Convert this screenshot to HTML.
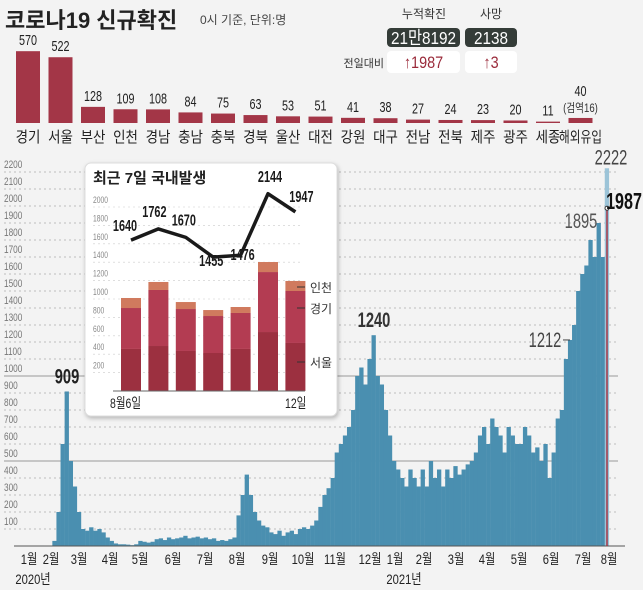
<!DOCTYPE html>
<html><head><meta charset="utf-8"><style>
body{margin:0;background:#f3f3f3;}
svg{display:block;font-family:"Liberation Sans","Noto Sans CJK KR",sans-serif;}
.k{font-family:"Liberation Sans","Noto Sans CJK KR",sans-serif;}
</style></head><body>
<svg id="s" width="643" height="590" viewBox="0 0 643 590">
<rect width="643" height="590" fill="#f3f3f3"/>
<text class="k" x="5" y="28" font-size="22" font-weight="bold" fill="#222">코로나19 신규확진</text>
<text class="k" x="200" y="24" font-size="12" fill="#444">0시 기준, 단위:명</text>
<g>
<text class="k" x="424" y="18" font-size="12" text-anchor="middle" fill="#333">누적확진</text>
<text class="k" x="491" y="18" font-size="12" text-anchor="middle" fill="#333">사망</text>
<rect x="387" y="28" width="73" height="19" rx="4" fill="#343c38"/>
<text transform="translate(423.5,44) scale(0.85,1)" font-size="18" text-anchor="middle" fill="#fff" class="k">21만8192</text>
<rect x="465" y="28" width="52" height="19" rx="4" fill="#343c38"/>
<text transform="translate(491,44) scale(0.85,1)" font-size="18" text-anchor="middle" fill="#fff">2138</text>
<text class="k" x="384" y="67" font-size="11" text-anchor="end" fill="#333">전일대비</text>
<rect x="387" y="51" width="73" height="22" rx="4" fill="#fff"/>
<text transform="translate(423.5,68) scale(0.85,1)" font-size="17" text-anchor="middle" fill="#9a2a3a">↑1987</text>
<rect x="465" y="51" width="52" height="22" rx="4" fill="#fff"/>
<text transform="translate(491,68) scale(0.85,1)" font-size="17" text-anchor="middle" fill="#9a2a3a">↑3</text>
</g>
<g id="region"></g>
<g id="main"></g>
<g id="inset"></g>
</svg>
<script>
const regions=["경기","서울","부산","인천","경남","충남","충북","경북","울산","대전","강원","대구","전남","전북","제주","광주","세종","해외유입"];
const regionValues=[570,522,128,109,108,84,75,63,53,51,41,38,27,24,23,20,11,40];
const dailyCases=[1,1,2,2,3,2,1,30,200,600,909,500,350,200,100,90,110,90,100,80,50,30,15,10,10,8,5,10,30,25,20,25,40,45,35,50,40,45,50,60,45,50,55,45,50,40,45,30,35,30,40,50,180,300,420,300,200,150,120,110,80,70,90,60,80,90,70,100,110,100,120,150,230,300,340,400,550,600,650,700,800,1000,1050,950,1100,1240,1000,950,800,650,500,450,400,350,450,400,350,450,350,500,400,450,350,450,400,470,420,450,480,500,550,650,700,600,750,700,650,550,700,650,600,600,700,650,550,580,500,600,400,550,750,800,1100,1212,1300,1500,1600,1650,1800,1700,1900,1700,2222];
const latest=1987;
const yTicks=[100,200,300,400,500,600,700,800,900,1000,1100,1200,1300,1400,1500,1600,1700,1800,1900,2000,2100,2200];
const insetSeoul=[457,489,435,413,457,641,522];
const insetGyeonggi=[445,609,456,402,391,652,565];
const insetIncheon=[109,87,76,65,65,109,109];
const insetTotal=[1640,1762,1670,1455,1476,2144,1947];
const insetTicks=[200,400,600,800,1000,1200,1400,1600,1800,2000];
const NS="http://www.w3.org/2000/svg";
function mk(p,t,a,txt){const e=document.createElementNS(NS,t);for(const k in a)e.setAttribute(k,a[k]);if(txt!==undefined)e.textContent=txt;p.appendChild(e);return e;}
function ct(p,x,y,size,anchor,fill,txt,weight,sx){return mk(p,'text',{transform:'translate('+x+','+y+') scale('+sx+',1)','font-size':size,'text-anchor':anchor,fill:fill,'font-weight':weight||'normal'},txt);}
// region bars
const rg=document.getElementById('region');
const rx=i=>28+i*32.5, ry=v=>123-v*0.126;
regions.forEach((r,i)=>{
 const b=mk(rg,'rect',{x:rx(i)-12,y:ry(regionValues[i]),width:24,height:123-ry(regionValues[i]),fill:'#a33647'});
 
 
 const v=ct(rg,rx(i),ry(regionValues[i])-(i==17?22:6),15,'middle','#222',regionValues[i],'normal',0.72);
 
 
 const l=ct(rg,rx(i),142,15,'middle','#222',r,'normal',i==17?0.78:0.9);
 
 
});
const q=ct(rg,rx(17),ry(40)-6,12,'middle','#333','(검역16)','normal',0.8);


// main chart
const mg=document.getElementById('main');
const X=d=>23.7+d*1.023, Y=v=>546-v*0.17;
yTicks.forEach(t=>{
 const solid=(t==500||t==1000);
 const g=mk(mg,'line',{x1:4,x2:618,y1:Y(t),y2:Y(t),stroke:solid?'#999':'#aaa','stroke-width':solid?1:0.8,'stroke-dasharray':solid?'none':'2,3'});
 
 
 const l=ct(mg,4,Y(t)-4,11,'start','#777',t,'normal',0.75);
 
 
});
dailyCases.forEach((v,i)=>{
 const b=mk(mg,'rect',{x:X(i*4),y:Y(v),width:4.3,height:546-Y(v),fill:i==dailyCases.length-1?'#9cc4d8':'#4a8fb0'});
 
 
});
const ax=mk(mg,'line',{x1:14,x2:625,y1:546,y2:546,stroke:'#555','stroke-width':1});


const rl=mk(mg,'line',{x1:607,x2:607,y1:Y(latest),y2:546,stroke:'#a33647','stroke-width':1.5});


const rc=mk(mg,'circle',{cx:607,cy:Y(latest),r:2,fill:'#fff',stroke:'#333'});


[["909",67,Y(909)-8,'#222',21,'bold'],["1240",374,Y(1240)-8,'#333',21,'bold'],["1212",545,Y(1212)+7,'#444',21,'normal'],["1895",581,Y(1895)+4,'#555',21,'normal'],["2222",611,Y(2222)-4,'#444',21,'normal'],["1987",624,Y(latest)+1,'#111',23,'bold']].forEach(a=>{
 const t=ct(mg,a[1],a[2],a[4],'middle',a[3],a[0],a[5],0.7);
 
 
});
const dash=mk(mg,'line',{x1:563,x2:570,y1:Y(1212),y2:Y(1212),stroke:'#444'});


const months=[["1월",29],["2월",51],["3월",79],["4월",110],["5월",140],["6월",173],["7월",205],["8월",237],["9월",270],["10월",303],["11월",335],["12월",370],["1월",395],["2월",424],["3월",456],["4월",487],["5월",519],["6월",551],["7월",583],["8월",609]];
months.forEach(m=>{
 const t=ct(mg,m[1],564,14,'middle','#222',m[0],'normal',0.8);
 
 
});
const y1=ct(mg,33,584,14,'middle','#222','2020년','normal',0.8);


const y2=ct(mg,404,584,14,'middle','#222','2021년','normal',0.8);


// inset
const ig=document.getElementById('inset');
const bg=mk(ig,'rect',{x:85,y:163,width:252,height:253,rx:6,fill:'#fff',stroke:'#ddd',style:'filter:drop-shadow(1px 2px 2px rgba(0,0,0,0.25))'});


const it=mk(ig,'text',{x:93,y:183,'font-size':15,'font-weight':'bold',fill:'#222',class:'k'},'최근 7일 국내발생');


const IX=i=>131+i*27.4, IY=v=>391-v*0.092;
insetTicks.forEach(t=>{
 const g=mk(ig,'line',{x1:93,x2:300,y1:IY(t),y2:IY(t),stroke:'#ccc','stroke-width':0.6,'stroke-dasharray':'2,3'});
 
 
 const l=ct(ig,93,IY(t)-4,9,'start','#888',t,'normal',0.75);
 
 
});
insetSeoul.forEach((s,i)=>{
 const segs=[[0,s,'#9c3040','seoul-segment'],[s,s+insetGyeonggi[i],'#b33c52','gyeonggi-segment'],[s+insetGyeonggi[i],s+insetGyeonggi[i]+insetIncheon[i],'#d07a5e','incheon-segment']];
 segs.forEach(sg=>{
  const r=mk(ig,'rect',{x:IX(i)-10,y:IY(sg[1]),width:20,height:IY(sg[0])-IY(sg[1]),fill:sg[2]});
  
  
 });
});
const ia=mk(ig,'line',{x1:113,x2:305,y1:391,y2:391,stroke:'#666'});


const pl=mk(ig,'polyline',{points:insetTotal.map((v,i)=>IX(i)+','+IY(v)).join(' '),fill:'none',stroke:'#1a1a1a','stroke-width':3.5,'stroke-linejoin':'round'});


const offX=[-6,-4,-2,-2,2,2,6], offY=[-9,-12,-12,9,5,-12,-10];
insetTotal.forEach((v,i)=>{
 const t=ct(ig,IX(i)+offX[i],IY(v)+offY[i],16,'middle','#1a1a1a',v,'bold',0.68);
 
 
});
[["인천",287],["경기",308],["서울",362]].forEach(a=>{
 const d=mk(ig,'line',{x1:297,x2:305,y1:a[1],y2:a[1],stroke:'#333'});
 
 
 const t=mk(ig,'text',{x:310,y:a[1]+5,'font-size':12,fill:'#333',class:'k'},a[0]);
 
 
});
const d1=ct(ig,110,408,14,'start','#222','8월6일','normal',0.75);


const d2=ct(ig,285,408,14,'start','#222','12일','normal',0.75);


</script>
</body></html>
